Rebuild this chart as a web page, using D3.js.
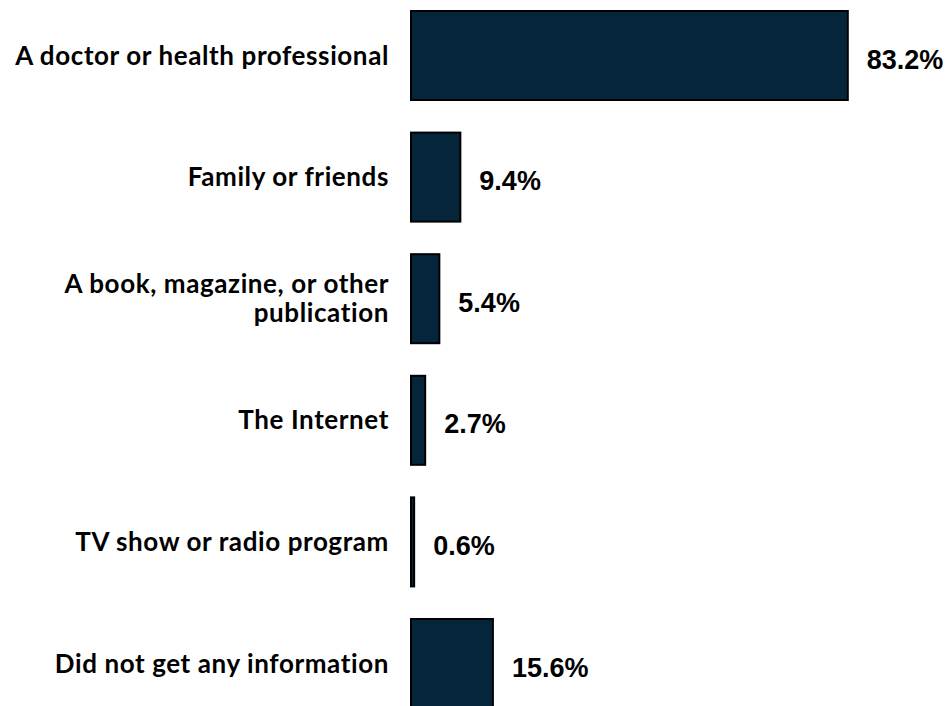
<!DOCTYPE html>
<html>
<head>
<meta charset="utf-8">
<script src="https://cdn.jsdelivr.net/npm/d3@7"></script>
<style>
  html, body { margin: 0; padding: 0; background: #ffffff; }
  svg { display: block; }
</style>
</head>
<body>
<svg id="chart" width="951" height="706"></svg>
<script>
// Where respondents got information (percent of respondents)
const categories = [
  ["A doctor or health professional"],
  ["Family or friends"],
  ["A book, magazine, or other", "publication"],
  ["The Internet"],
  ["TV show or radio program"],
  ["Did not get any information"]
];
const values = [83.2, 9.4, 5.4, 2.7, 0.6, 15.6];
const valueLabels = ["83.2%", "9.4%", "5.4%", "2.7%", "0.6%", "15.6%"];

const svg = d3.select("#chart");
const barLeft = 411;
const ids = d3.range(values.length);

const x = d3.scaleLinear().domain([0, 100]).range([0, 525]);
const y = d3.scaleBand()
  .domain(ids)
  .range([-5.3, 724.3])
  .paddingInner(0.268)
  .paddingOuter(0.134);

const barFill = "#05263a";

// bars
svg.selectAll("rect.bar")
  .data(ids)
  .join("rect")
  .attr("class", "bar")
  .attr("x", barLeft)
  .attr("y", i => y(i))
  .attr("width", i => x(values[i]))
  .attr("height", y.bandwidth())
  .attr("fill", barFill)
  .attr("stroke", "#000000")
  .attr("stroke-width", 2);

// value labels
svg.selectAll("text.val")
  .data(ids)
  .join("text")
  .attr("class", "val")
  .attr("x", i => barLeft + x(values[i]) + 19)
  .attr("y", i => y(i) + y.bandwidth() / 2 + 13)
  .attr("font-family", "'Liberation Sans', Arial, sans-serif")
  .attr("font-weight", "bold")
  .attr("font-size", 27)
  .attr("fill", "#000000")
  .text(i => valueLabels[i]);

// category labels (right aligned, may wrap onto two lines)
const lineGap = 29;
const catG = svg.selectAll("text.cat")
  .data(ids)
  .join("text")
  .attr("class", "cat")
  .attr("text-anchor", "end")
  .attr("font-family", "Lato, 'Open Sans', sans-serif")
  .attr("font-weight", "bold")
  .attr("font-size", 26)
  .attr("letter-spacing", 0.6)
  .attr("fill", "#000000");

catG.each(function(i) {
  const lines = categories[i];
  const cy = y(i) + y.bandwidth() / 2 + 9;
  const first = cy - (lines.length - 1) * lineGap / 2;
  d3.select(this).selectAll("tspan")
    .data(lines)
    .join("tspan")
    .attr("x", 389)
    .attr("y", (d, k) => first + k * lineGap)
    .text(d => d);
});
</script>
</body>
</html>
